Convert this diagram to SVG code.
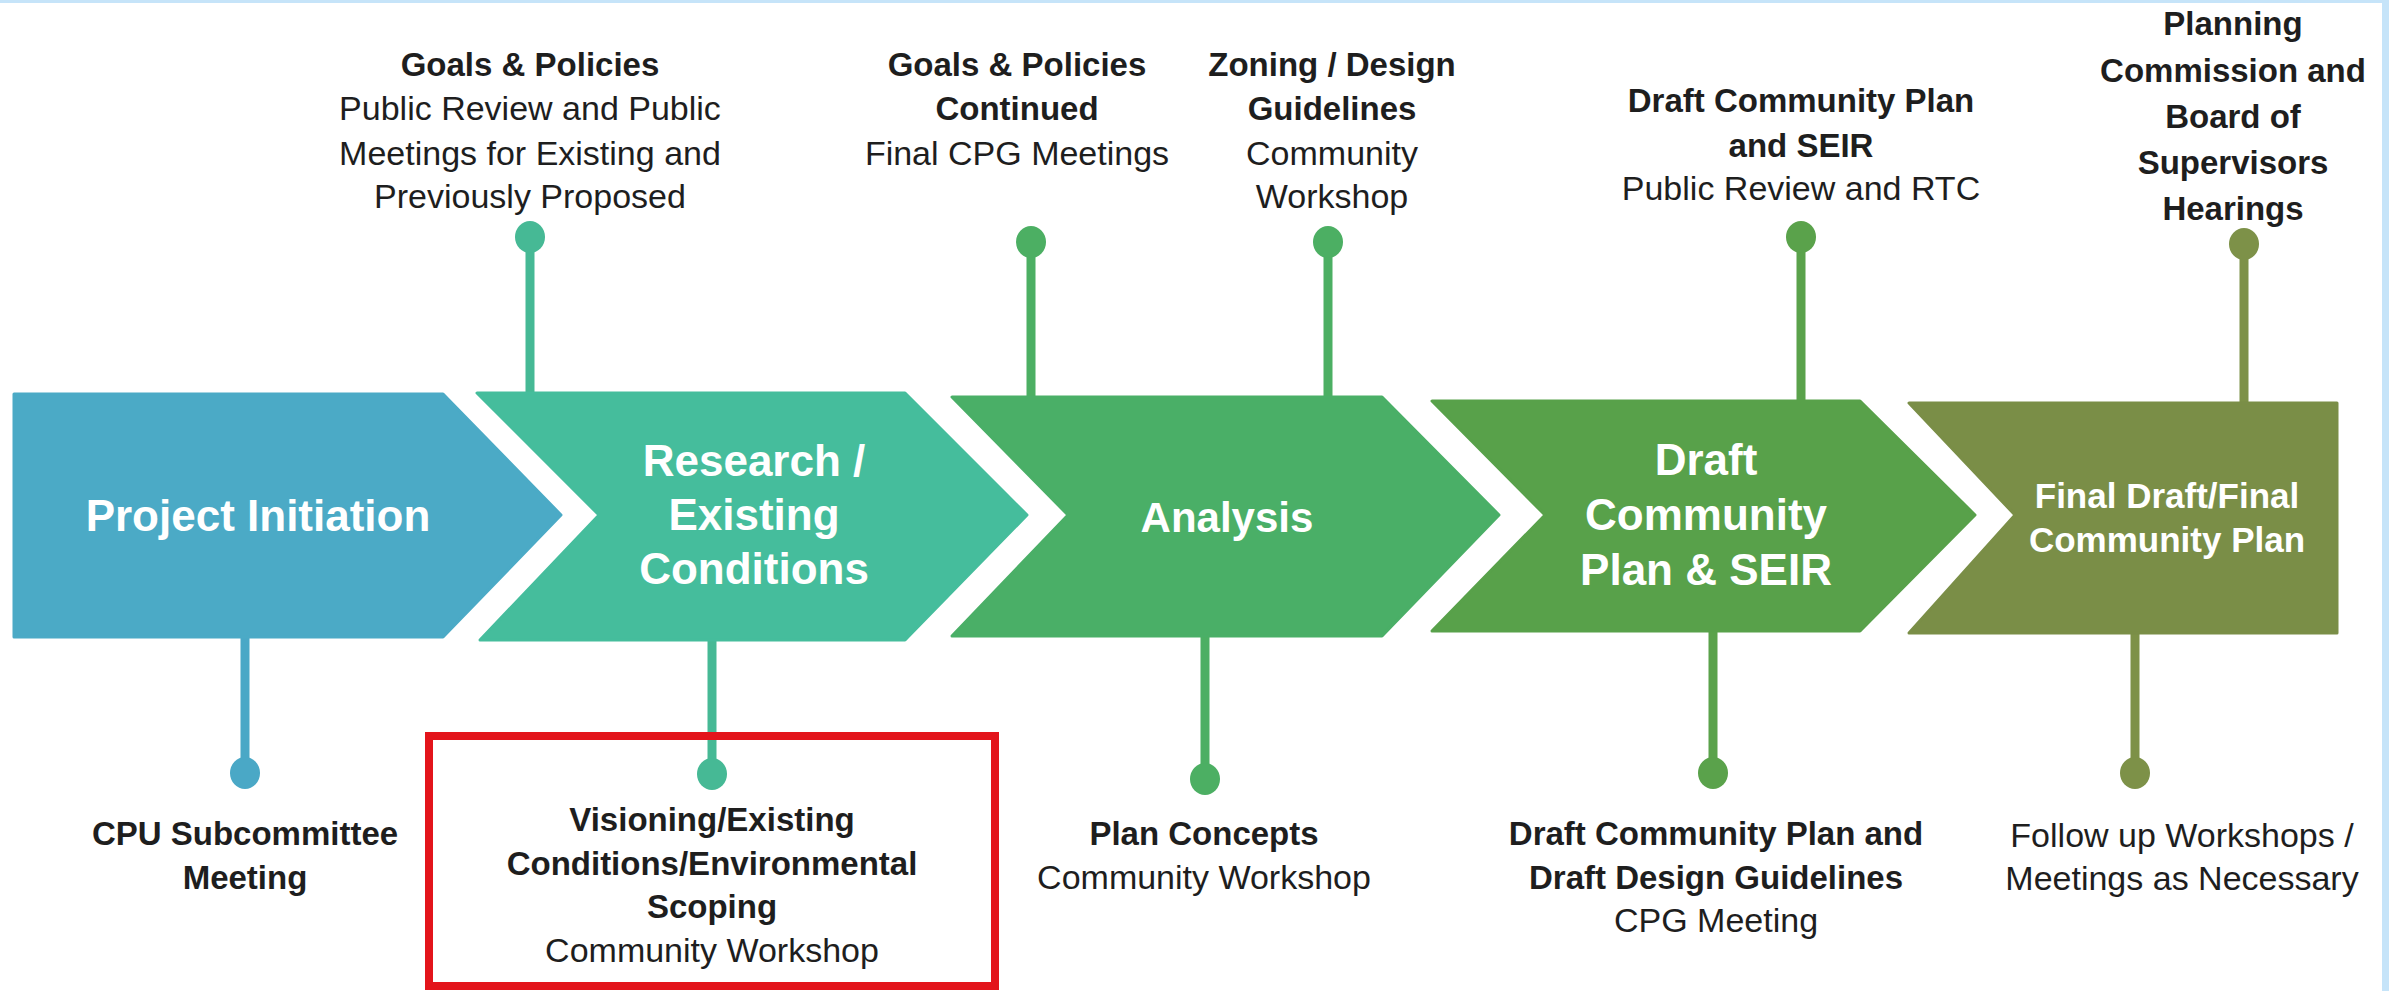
<svg xmlns="http://www.w3.org/2000/svg" width="2389" height="991" viewBox="0 0 2389 991">
<style>
.lbl{font-family:"Liberation Sans",Arial,sans-serif;fill:#1e1e1e;text-anchor:middle}
.b{font-weight:bold;font-size:33px}
.r{font-size:34px}
.ch{font-family:"Liberation Sans",Arial,sans-serif;fill:#ffffff;font-weight:bold;text-anchor:middle}
.conn line{stroke-width:9}
.shape{stroke-width:3;stroke-linejoin:round}
</style>
<rect x="0" y="0" width="2389" height="991" fill="#ffffff"/>
<rect x="0" y="0" width="2389" height="3" fill="#c6e4f9"/>
<rect x="2382" y="0" width="7" height="991" fill="#c6e4f9"/>

<g id="connectors" class="conn">
  <line x1="530" y1="237" x2="530" y2="396" stroke="#46b995"/>
  <ellipse cx="530" cy="237" rx="15" ry="16" fill="#46b995"/>
  <line x1="1031" y1="242" x2="1031" y2="400" stroke="#4caf63"/>
  <ellipse cx="1031" cy="242" rx="15" ry="16" fill="#4caf63"/>
  <line x1="1328" y1="242" x2="1328" y2="400" stroke="#4caf63"/>
  <ellipse cx="1328" cy="242" rx="15" ry="16" fill="#4caf63"/>
  <line x1="1801" y1="237" x2="1801" y2="404" stroke="#5aa24b"/>
  <ellipse cx="1801" cy="237" rx="15" ry="16" fill="#5aa24b"/>
  <line x1="2244" y1="244" x2="2244" y2="406" stroke="#7d9148"/>
  <ellipse cx="2244" cy="244" rx="15" ry="16" fill="#7d9148"/>

  <line x1="245" y1="634" x2="245" y2="773" stroke="#4aa8c6"/>
  <ellipse cx="245" cy="773" rx="15" ry="16" fill="#4aa8c6"/>
  <line x1="712" y1="637" x2="712" y2="774" stroke="#46b995"/>
  <ellipse cx="712" cy="774" rx="15" ry="16" fill="#46b995"/>
  <line x1="1205" y1="633" x2="1205" y2="779" stroke="#4caf63"/>
  <ellipse cx="1205" cy="779" rx="15" ry="16" fill="#4caf63"/>
  <line x1="1713" y1="628" x2="1713" y2="773" stroke="#5aa24b"/>
  <ellipse cx="1713" cy="773" rx="15" ry="16" fill="#5aa24b"/>
  <line x1="2135" y1="630" x2="2135" y2="773" stroke="#7d9148"/>
  <ellipse cx="2135" cy="773" rx="15" ry="16" fill="#7d9148"/>
</g>

<g id="phase-project-initiation">
  <polygon class="shape" points="14,394 443,394 561,515 443,637 14,637" fill="#4baac6" stroke="#4baac6"/>
  <text class="ch" x="258" y="531" font-size="44">Project Initiation</text>
</g>
<g id="phase-research">
  <polygon class="shape" points="477,393 905,393 1027,515 905,640 480,640 599,515" fill="#45bd9c" stroke="#45bd9c"/>
  <text class="ch" x="754" y="476" font-size="44">Research /</text>
  <text class="ch" x="754" y="530" font-size="44">Existing</text>
  <text class="ch" x="754" y="584" font-size="44">Conditions</text>
</g>
<g id="phase-analysis">
  <polygon class="shape" points="952,397 1382,397 1499,515 1382,636 952,636 1068,515" fill="#4aaf67" stroke="#4aaf67"/>
  <text class="ch" x="1227" y="532" font-size="42">Analysis</text>
</g>
<g id="phase-draft">
  <polygon class="shape" points="1432,401 1860,401 1975,515 1860,631 1432,631 1545,515" fill="#58a14a" stroke="#58a14a"/>
  <text class="ch" x="1706" y="475" font-size="44">Draft</text>
  <text class="ch" x="1706" y="530" font-size="44">Community</text>
  <text class="ch" x="1706" y="585" font-size="44">Plan &amp; SEIR</text>
</g>
<g id="phase-final">
  <polygon class="shape" points="1909,403 2337,403 2337,633 1909,633 2015,515" fill="#7a8e47" stroke="#7a8e47"/>
  <text class="ch" x="2167" y="508" font-size="35">Final Draft/Final</text>
  <text class="ch" x="2167" y="552" font-size="35">Community Plan</text>
</g>

<g id="top-goals-policies">
  <text class="lbl b" x="530" y="76">Goals &amp; Policies</text>
  <text class="lbl r" x="530" y="120">Public Review and Public</text>
  <text class="lbl r" x="530" y="165">Meetings for Existing and</text>
  <text class="lbl r" x="530" y="208">Previously Proposed</text>
</g>
<g id="top-goals-continued">
  <text class="lbl b" x="1017" y="76">Goals &amp; Policies</text>
  <text class="lbl b" x="1017" y="120">Continued</text>
  <text class="lbl r" x="1017" y="165">Final CPG Meetings</text>
</g>
<g id="top-zoning">
  <text class="lbl b" x="1332" y="76">Zoning / Design</text>
  <text class="lbl b" x="1332" y="120">Guidelines</text>
  <text class="lbl r" x="1332" y="165">Community</text>
  <text class="lbl r" x="1332" y="208">Workshop</text>
</g>
<g id="top-draft-seir">
  <text class="lbl b" x="1801" y="112">Draft Community Plan</text>
  <text class="lbl b" x="1801" y="157">and SEIR</text>
  <text class="lbl r" x="1801" y="200">Public Review and RTC</text>
</g>
<g id="top-hearings">
  <text class="lbl b" x="2233" y="35">Planning</text>
  <text class="lbl b" x="2233" y="82">Commission and</text>
  <text class="lbl b" x="2233" y="128">Board of</text>
  <text class="lbl b" x="2233" y="174">Supervisors</text>
  <text class="lbl b" x="2233" y="220">Hearings</text>
</g>

<g id="bottom-cpu">
  <text class="lbl b" x="245" y="845">CPU Subcommittee</text>
  <text class="lbl b" x="245" y="889">Meeting</text>
</g>
<g id="bottom-visioning">
  <rect x="429" y="736" width="566" height="250" fill="none" stroke="#e3141b" stroke-width="8"/>
  <text class="lbl b" x="712" y="831">Visioning/Existing</text>
  <text class="lbl b" x="712" y="875">Conditions/Environmental</text>
  <text class="lbl b" x="712" y="918">Scoping</text>
  <text class="lbl r" x="712" y="962">Community Workshop</text>
</g>
<g id="bottom-plan-concepts">
  <text class="lbl b" x="1204" y="845">Plan Concepts</text>
  <text class="lbl r" x="1204" y="889">Community Workshop</text>
</g>
<g id="bottom-draft-guidelines">
  <text class="lbl b" x="1716" y="845">Draft Community Plan and</text>
  <text class="lbl b" x="1716" y="889">Draft Design Guidelines</text>
  <text class="lbl r" x="1716" y="932">CPG Meeting</text>
</g>
<g id="bottom-followup">
  <text class="lbl r" x="2182" y="847">Follow up Workshops /</text>
  <text class="lbl r" x="2182" y="890">Meetings as Necessary</text>
</g>
</svg>
